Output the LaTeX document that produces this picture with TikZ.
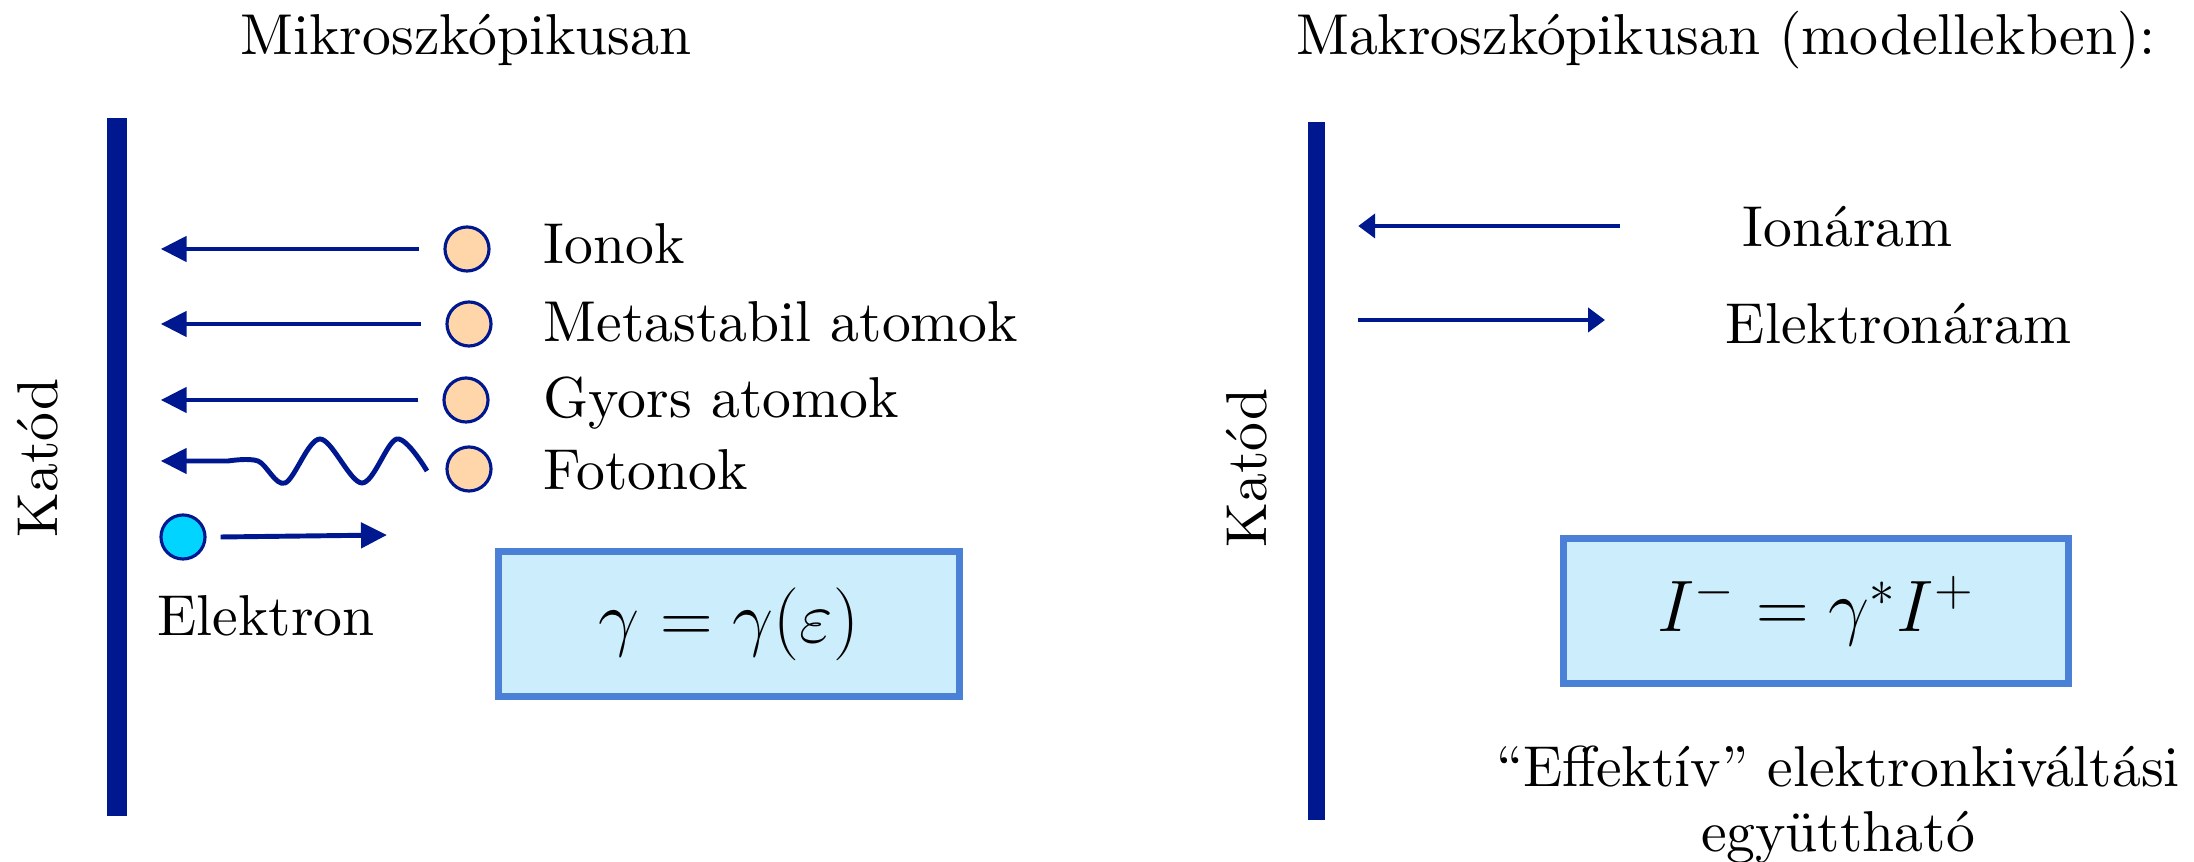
\documentclass[tikz,border=0pt]{standalone}
\usepackage{fontspec}
\usepackage{amsmath}
\usetikzlibrary{positioning, arrows.meta, calc}
\newfontfamily\lmten{lmroman10-regular.otf}
\definecolor{myNavy}{RGB}{0,24,143}
\definecolor{myPeach}{RGB}{255,214,170}
\definecolor{myCyan}{RGB}{0,212,255}
\definecolor{boxFill}{RGB}{204,238,252}
\definecolor{boxLine}{RGB}{74,128,214}

\begin{document}
\begin{tikzpicture}[
  x=0.01cm, y=-0.01cm,
  flow/.style={-{Triangle[length=0.26cm, width=0.25cm]}, line width=1.4pt, myNavy},
  thinflow/.style={-{Triangle[length=0.17cm, width=0.24cm]}, line width=1.4pt, myNavy},
  particle/.style={circle, draw=myNavy, line width=0.9pt, fill=myPeach,
                   minimum size=0.44cm, inner sep=0pt},
  cathode/.style={fill=myNavy, inner sep=0pt, minimum width=0.2cm},
  txt/.style={font=\lmten\fontsize{16.4}{20}\selectfont, inner sep=0pt},
  eqbox/.style={draw=boxLine, line width=2pt, fill=boxFill, minimum height=1.45cm,
                font=\fontsize{21}{25}\selectfont},
]
  \useasboundingbox (0,0) rectangle (2194,862);

  % Titles
  \node[txt, anchor=base] (mikro) at (466,55) {Mikroszkópikusan};
  \node[txt, anchor=base] (makro) at (1726,55) {Makroszkópikusan (modellekben):};

  % Cathodes
  \node[cathode, minimum height=6.98cm] (katL) at (117,467) {};
  \node[cathode, minimum width=0.17cm, minimum height=6.97cm] (katR) at (1316,471) {};
  \node[txt, rotate=90] (katLlbl) at (38,458) {Katód};
  \node[txt, rotate=90] (katRlbl) at (1247,468) {Katód};

  % Particles
  \node[particle] (ion) at (467,249) {};
  \node[particle] (meta) at (469,324) {};
  \node[particle] (gyors) at (466,400) {};
  \node[particle] (foton) at (469,469) {};
  \node[particle, fill=myCyan] (elek) at (183,537) {};

  \node[txt, anchor=base west] (ionlbl) at (543,264) {Ionok};
  \node[txt, anchor=base west] (metalbl) at (543,342) {Metastabil atomok};
  \node[txt, anchor=base west] (gyorslbl) at (543,418) {Gyors atomok};
  \node[txt, anchor=base west] (fotonlbl) at (543,490) {Fotonok};

  % Arrows towards the cathode
  \foreach \p in {ion, meta, gyors}
    \draw[flow] ([xshift=-0.24cm]\p.west) -- ($(katL.east |- \p)+(33,0)$);
  \draw[flow] plot[smooth, tension=0.55] coordinates {(427,471) (397,439) (362,483)
    (320,439) (285,483) (258,461) (228,461)} -- ($(katL.east |- foton)+(33,-8)$);

  % Electron leaving the cathode
  \coordinate (elekEnd) at (387,535);
  \draw[flow] ([xshift=0.14cm]elek.east) -- (elekEnd);
  \node[txt, anchor=base] (elekLbl) at (266,636) {Elektron};

  \node[eqbox, minimum width=4.6cm] (gammaL) at (729,624) {$\gamma = \gamma(\varepsilon)$};

  % Macroscopic currents
  \coordinate (ionR) at (1620,226);
  \coordinate (elekR) at (1605,320);
  \draw[thinflow] (ionR) -- ($(katR.east |- ionR)+(33,0)$);
  \draw[thinflow] ($(katR.east |- elekR)+(33,0)$) -- (elekR);
  \node[txt, anchor=base west] (ionRlbl) at (1742,247) {Ionáram};
  \node[txt, anchor=base west] (elekRlbl) at (1725,344) {Elektronáram};

  \node[eqbox, minimum width=5.04cm] (gammaR) at (1816,611) {$I^- = \gamma^* I^+$};
  \node[txt, anchor=base] (eff) at (1838,787) {“Effektív” elektronkiváltási};
  \node[txt, anchor=base] (egyutt) at (1838,852) {együttható};
\end{tikzpicture}
\end{document}
